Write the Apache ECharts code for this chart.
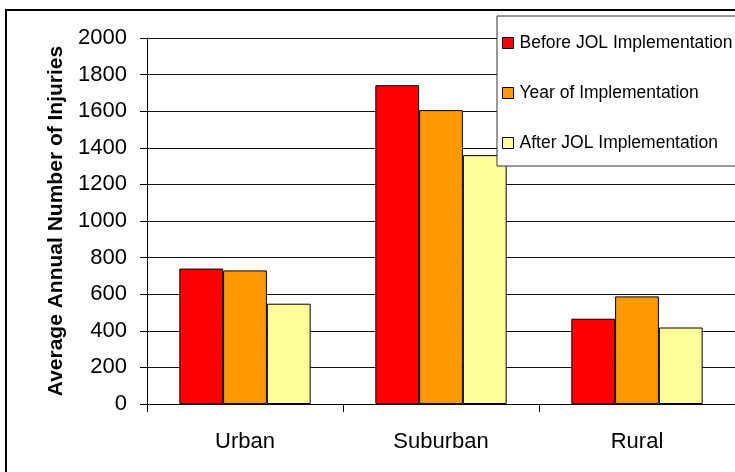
<!DOCTYPE html>
<html>
<head>
<meta charset="utf-8">
<script src="https://cdn.jsdelivr.net/npm/echarts@6/dist/echarts.min.js"></script>
<style>
  html, body { margin: 0; padding: 0; background: #fff; }
  #chart { width: 735px; height: 472px; }
</style>
</head>
<body>
<div id="chart"></div>
<script>
// Injury counts by area type, around the JOL implementation year
var categories = ['Urban', 'Suburban', 'Rural'];
var seriesNames = ['Before JOL Implementation', 'Year of Implementation', 'After JOL Implementation'];
var beforeValues = [740, 1742, 466];
var yearValues = [730, 1606, 588];
var afterValues = [548, 1360, 418];
var yTicks = [0, 200, 400, 600, 800, 1000, 1200, 1400, 1600, 1800, 2000];

var FONT = '"Liberation Sans", Arial, sans-serif';
var colors = ['#FF0000', '#FF9900', '#FFFF99'];
var valueSets = [beforeValues, yearValues, afterValues];

var chart = echarts.init(document.getElementById('chart'), null, { renderer: 'canvas' });

var series = seriesNames.map(function (name, i) {
  return {
    name: name,
    type: 'bar',
    data: valueSets[i],
    barGap: '0%',
    barCategoryGap: '33%',
    itemStyle: { color: colors[i], borderColor: '#000', borderWidth: 1 },
    emphasis: { disabled: true },
    animation: false
  };
});

chart.setOption({
  animation: false,
  textStyle: { fontFamily: FONT },
  graphic: [{
    type: 'rect',
    shape: { x: 6, y: 10, width: 800, height: 520 },
    style: { fill: 'none', stroke: '#000', lineWidth: 2 },
    silent: true,
    z: 100
  }],
  grid: { left: 147, top: 38, width: 592, height: 366, containLabel: false },
  legend: {
    orient: 'vertical',
    left: 497,
    top: 16,
    padding: [17, 30, 13, 5],
    itemGap: 30,
    itemWidth: 11,
    itemHeight: 11,
    backgroundColor: '#fff',
    borderColor: '#333',
    borderWidth: 1,
    data: seriesNames,
    icon: 'rect',
    itemStyle: { borderColor: '#000', borderWidth: 1 },
    textStyle: { fontFamily: FONT, fontSize: 17.5, color: '#000', lineHeight: 20, padding: [0, 0, 0, 1] },
    selectedMode: false,
    z: 50
  },
  xAxis: {
    type: 'category',
    data: categories,
    axisLine: { lineStyle: { color: '#000', width: 1 } },
    axisTick: { show: true, length: 8, lineStyle: { color: '#000' } },
    axisLabel: { fontFamily: FONT, fontSize: 22, color: '#000', margin: 27 },
    splitLine: { show: false }
  },
  yAxis: {
    type: 'value',
    min: yTicks[0],
    max: yTicks[yTicks.length - 1],
    interval: yTicks[1] - yTicks[0],
    name: 'Average Annual Number of Injuries',
    nameLocation: 'middle',
    nameRotate: 90,
    nameGap: 67,
    nameTextStyle: { fontFamily: FONT, fontSize: 21, fontWeight: 'bold', color: '#000' },
    axisLine: { show: true, lineStyle: { color: '#000', width: 1 } },
    axisTick: { show: true, length: 7, lineStyle: { color: '#000' } },
    axisLabel: {
      fontFamily: FONT, fontSize: 22, color: '#000', margin: 20,
      formatter: function (v) { return String(v); }
    },
    splitLine: { show: true, lineStyle: { color: '#111', width: 1 } }
  },
  series: series
});
</script>
</body>
</html>
